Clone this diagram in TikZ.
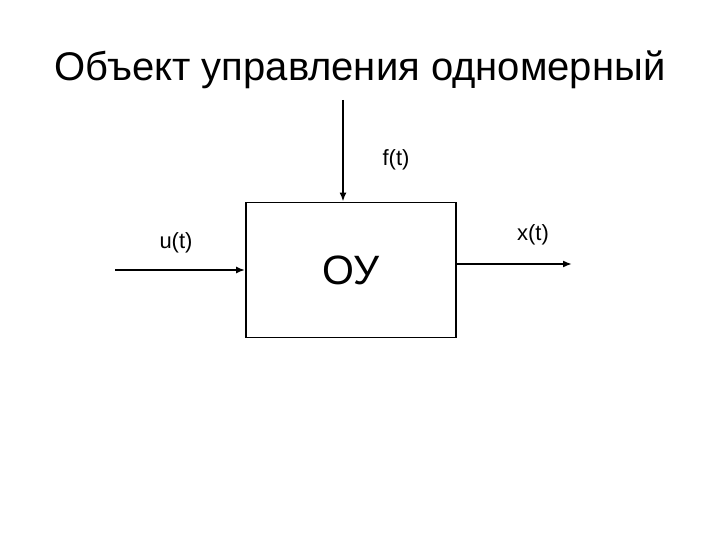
\documentclass[tikz,border=0pt]{standalone}
\usepackage{fontspec}
\setmainfont{Liberation Sans}
\usetikzlibrary{arrows.meta}

\begin{document}
\begin{tikzpicture}[x=1pt,y=-1pt]

      \useasboundingbox (0,0) rectangle (720,540);

      \node (title) at (360,70) {\fontsize{40}{44}\selectfont Объект управления одномерный};

      \node[draw,line width=1.8pt,minimum width=210pt,minimum height=135pt,inner sep=0pt] (ou) at (351,270) {\fontsize{41}{45}\selectfont ОУ};

      \coordinate (uin) at (115,270);
      \coordinate (ftop) at (343,100);
      \coordinate (xout) at (572,264);

      \begin{scope}[every node/.style={font=\fontsize{22}{26}\selectfont}]
        \node (ulab) at (176,243) {u(t)};
        \node (flab) at (396,160) {f(t)};
        \node (xlab) at (533,235) {x(t)};
      \end{scope}

      \begin{scope}[line width=1.8pt,-{Latex[length=9pt,width=7pt]}]
        \draw (uin) -- (uin -| ou.west);
        \draw (ftop) -- (ftop |- ou.north);
        \draw (ou.east |- xout) -- (xout);
      \end{scope}

    \end{tikzpicture}
\end{document}
